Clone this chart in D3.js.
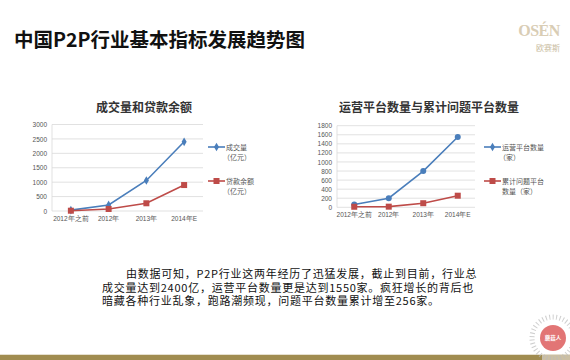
<!DOCTYPE html>
<html><head><meta charset="utf-8">
<script src="https://cdn.jsdelivr.net/npm/d3@7"></script>
<style>
body{margin:0;background:#fff;}
svg{display:block;font-family:"Noto Sans CJK SC","Noto Sans",sans-serif;}
</style></head>
<body><svg id="c" width="570" height="360"></svg>
<script>
const categories = ["2012年之前","2012年","2013年","2014年E"];
const volume = [30, 210, 1058, 2400];
const loans = [10, 70, 268, 900];
const platforms = [60, 200, 800, 1550];
const problemPlatforms = [12, 14, 90, 256];
const leftTicks = [0,500,1000,1500,2000,2500,3000];
const rightTicks = [0,200,400,600,800,1000,1200,1400,1600,1800];

const svg = d3.select("#c");
const BLUE = "#4a7ebb", RED = "#be4b48";

// Title
svg.append("text").attr("x",14).attr("y",47).attr("font-size",19.5).attr("font-weight","bold")
  .attr("fill","#111").text("中国P2P行业基本指标发展趋势图");
// Logo
svg.append("text").attr("x",539).attr("y",36).attr("text-anchor","middle")
  .attr("font-family","Liberation Serif,serif").attr("font-size",16).attr("font-weight","bold")
  .attr("fill","#d9cdb5").attr("letter-spacing",-0.5).text("OSÉN");
svg.append("text").attr("x",548).attr("y",51).attr("text-anchor","middle")
  .attr("font-size",8).attr("fill","#c9bca0").text("欧赛斯");

function chart(o){
  const g = svg.append("g");
  const x = d3.scaleBand().domain(categories).range([o.x0,o.x1]);
  const y = d3.scaleLinear().domain([0,o.max]).range([o.y0,o.y1]);
  g.append("text").attr("x",o.tx).attr("y",112).attr("text-anchor","middle")
    .attr("font-size",12).attr("font-weight","bold").attr("fill","#333").text(o.title);
  // gridlines
  g.append("g").selectAll("line").data(o.ticks).join("line")
    .attr("x1",o.x0).attr("x2",o.x1).attr("y1",d=>y(d)).attr("y2",d=>y(d))
    .attr("stroke","#d9d9d9").attr("stroke-width",0.8);
  g.append("line").attr("x1",o.x0).attr("x2",o.x0).attr("y1",o.y0).attr("y2",o.y1)
    .attr("stroke","#d9d9d9").attr("stroke-width",0.8);
  const ya = d3.axisLeft(y).tickValues(o.ticks).tickFormat(d3.format("d")).tickSize(0).tickPadding(5);
  const ag = g.append("g").attr("transform",`translate(${o.x0},0)`).call(ya);
  ag.select(".domain").remove();
  ag.selectAll("text").attr("font-size",6.5).attr("fill","#555").attr("font-family","Liberation Sans,sans-serif");
  const xa = d3.axisBottom(x).tickSize(0).tickPadding(5);
  const xg = g.append("g").attr("transform",`translate(0,${o.y0})`).call(xa);
  xg.select(".domain").remove();
  xg.selectAll("text").attr("font-size",6.5).attr("fill","#555");
  const cx = d => x(d)+x.bandwidth()/2;
  const line = d3.line().x((d,i)=>cx(categories[i])).y(d=>y(d));
  // series
  [[o.s1,BLUE,o.m1],[o.s2,RED,"square"]].forEach(([s,c,m])=>{
    g.append("path").datum(s).attr("d",line).attr("fill","none").attr("stroke",c).attr("stroke-width",1.6);
    s.forEach((v,i)=>{
      const px=cx(categories[i]), py=y(v);
      if(m==="square") g.append("rect").attr("x",px-3).attr("y",py-3).attr("width",6).attr("height",6).attr("fill",c);
      else if(m==="circle") g.append("circle").attr("cx",px).attr("cy",py).attr("r",3).attr("fill",c);
      else g.append("path").attr("d",d3.symbol(d3.symbolDiamond,22)()).attr("transform",`translate(${px},${py})`).attr("fill",c);
    });
  });
  // legend
  [[o.l1,BLUE,"diamond",147],[o.l2,RED,"square",181]].forEach(([lab,c,m,ly])=>{
    g.append("line").attr("x1",o.lx).attr("x2",o.lx+17).attr("y1",ly).attr("y2",ly).attr("stroke",c).attr("stroke-width",1.6);
    if(m==="square") g.append("rect").attr("x",o.lx+5.5).attr("y",ly-3).attr("width",6).attr("height",6).attr("fill",c);
    else g.append("path").attr("d",d3.symbol(d3.symbolDiamond,22)()).attr("transform",`translate(${o.lx+8.5},${ly})`).attr("fill",c);
    const tx = g.append("text").attr("font-size",7).attr("fill","#555");
    lab.forEach((t,k)=>tx.append("tspan").attr("x",o.lx+18+(k>0&&t.startsWith("（")?-3:0)).attr("y",ly+2.5+k*10).text(t));
  });
}

chart({x0:52,x1:203,y0:211,y1:124.5,max:3000,ticks:leftTicks,tx:144,title:"成交量和贷款余额",
  s1:volume,s2:loans,m1:"diamond",lx:208,l1:["成交量","（亿元）"],l2:["贷款余额","（亿元）"]});
chart({x0:337,x1:475,y0:207.3,y1:125.7,max:1800,ticks:rightTicks,tx:429,title:"运营平台数量与累计问题平台数量",
  s1:platforms,s2:problemPlatforms,m1:"circle",lx:484,l1:["运营平台数量","（家）"],l2:["累计问题平台","数量（家）"]});

// paragraph (one text block, three lines)
const para = ["由数据可知，P2P行业这两年经历了迅猛发展，截止到目前，行业总",
  "成交量达到2400亿，运营平台数量更是达到1550家。疯狂增长的背后也",
  "暗藏各种行业乱象，跑路潮频现，问题平台数量累计增至256家。"];
const pt = svg.append("text").attr("font-size",11).attr("letter-spacing",0.75).attr("fill","#111");
para.forEach((t,i)=>pt.append("tspan").attr("x",i===0?126:102).attr("y",278+i*13.6).text(t));

// bottom bar
svg.append("rect").attr("x",0).attr("y",354).attr("width",570).attr("height",1).attr("fill","#e6e0d0");
svg.append("rect").attr("x",0).attr("y",355).attr("width",542).attr("height",5).attr("fill","#a08c50");
svg.append("rect").attr("x",542).attr("y",355).attr("width",28).attr("height",5).attr("fill","#cbbfa3");
// badge
svg.append("circle").attr("cx",553).attr("cy",338).attr("r",21).attr("fill","none")
  .attr("stroke","#bbb").attr("stroke-width",5).attr("stroke-dasharray","1 2.5").attr("opacity",0.7);
svg.append("circle").attr("cx",553).attr("cy",338).attr("r",13).attr("fill","#e27575");
svg.append("text").attr("x",553).attr("y",340).attr("text-anchor","middle").attr("font-size",5.5)
  .attr("fill","#fff").attr("font-weight","bold").text("蘑菇人");
</script></body></html>
